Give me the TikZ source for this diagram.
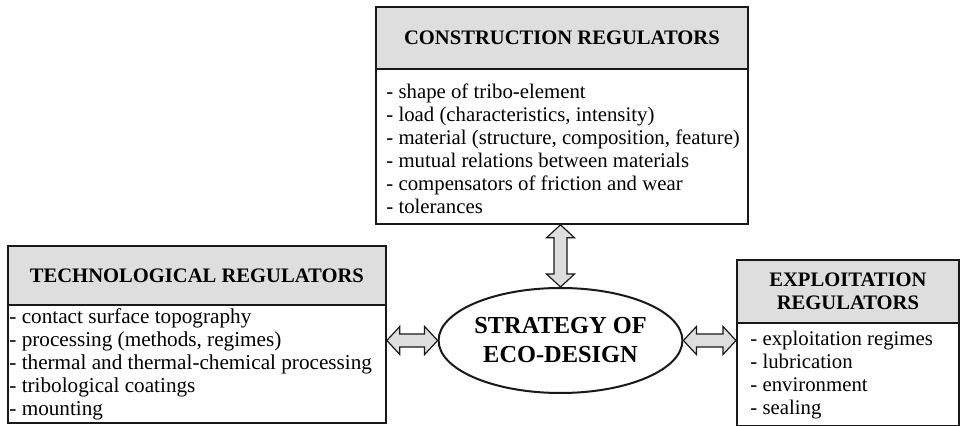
\documentclass[tikz,border=0pt]{standalone}
\usepackage{fontspec}
\setmainfont{Liberation Serif}
\usepackage{tikz}
\usetikzlibrary{shapes,calc}

\tikzset{
  headbox/.style={draw=lineColor, fill=headColor, line width=0.9pt, anchor=north west,
    inner sep=0pt, align=center, font=\bfseries\fontsize{10.3}{11.5}\selectfont},
  bodybox/.style={draw=lineColor, fill=white, line width=0.9pt, anchor=north west, inner sep=0pt},
  bodytext/.style={anchor=west, inner sep=0pt, align=left, font=\fontsize{10.4}{11.5}\selectfont},
  strategy/.style={draw=lineColor, fill=white, ellipse, line width=1pt, inner sep=0pt,
    align=center, font=\bfseries\fontsize{12.2}{14.5}\selectfont},
  fatarrow/.style={draw=lineColor, fill=headColor, line width=0.6pt, line join=miter}
}

\newcommand{\fatlink}[2]{%
  \coordinate (fa) at ($(#1)!6.5pt!(#2)$);
  \coordinate (fb) at ($(#2)!6.5pt!(#1)$);
  \draw[fatarrow] (#1) -- ($(fa)!7pt!-90:(#2)$) -- ($(fa)!3.25pt!-90:(#2)$)
    -- ($(fb)!3.25pt!90:(#1)$) -- ($(fb)!7pt!90:(#1)$) -- (#2)
    -- ($(fb)!7pt!-90:(#1)$) -- ($(fb)!3.25pt!-90:(#1)$)
    -- ($(fa)!3.25pt!90:(#2)$) -- ($(fa)!7pt!90:(#2)$) -- cycle;}

\begin{document}
\begin{tikzpicture}[x=0.5pt,y=-0.5pt]
\definecolor{lineColor}{RGB}{25,25,25}
\definecolor{headColor}{RGB}{222,222,222}
\useasboundingbox (0,0) rectangle (962,426);

\node[headbox, minimum width=186pt, minimum height=31pt] (consH) at (375,6) {CONSTRUCTION REGULATORS};
\node[bodybox, minimum width=186pt, minimum height=77.5pt] (consB) at (375,68) {};
\node[bodytext] (consT) at ([xshift=5.5pt,yshift=-1pt]consB.west)
  {- shape of tribo-element\\- load (characteristics, intensity)\\- material (structure, composition, feature)\\- mutual relations between materials\\- compensators of friction and wear\\- tolerances};

\node[headbox, minimum width=189pt, minimum height=29.5pt] (techH) at (7,245) {TECHNOLOGICAL REGULATORS};
\node[bodybox, minimum width=189pt, minimum height=59pt] (techB) at (7,304) {};
\node[bodytext, font=\fontsize{10.6}{11.5}\selectfont] (techT) at ([xshift=1pt]techB.west)
  {- contact surface topography\\- processing (methods, regimes)\\- thermal and thermal-chemical processing\\- tribological coatings\\- mounting};

\node[headbox, minimum width=111pt, minimum height=31.5pt] (explH) at (736,259) {EXPLOITATION\\REGULATORS};
\node[bodybox, minimum width=111pt, minimum height=51.5pt] (explB) at (736,322) {};
\node[bodytext] (explT) at ([xshift=7pt,yshift=-0.5pt]explB.west)
  {- exploitation regimes\\- lubrication\\- environment\\- sealing};

\node[strategy, minimum width=111.5pt, minimum height=52.5pt] (eco) at (560.5,340.5) {STRATEGY OF\\ECO-DESIGN};

\coordinate (consS) at (eco.north |- consB.south);
\coordinate (techE) at (eco.west -| techB.east);
\coordinate (explW) at (eco.east -| explB.west);

\fatlink{consS}{eco.north}
\fatlink{techE}{eco.west}
\fatlink{explW}{eco.east}
\end{tikzpicture}
\end{document}
